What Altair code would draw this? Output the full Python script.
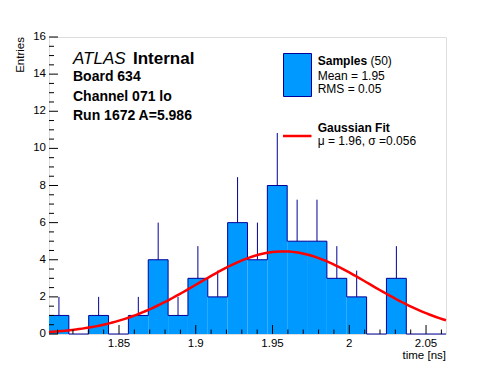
import altair as alt
import pandas as pd
import numpy as np

# ---- data ----
x_min = 1.8044
x_max = 2.063
counts = [1, 0, 1, 0, 1, 4, 1, 3, 2, 6, 4, 8, 5, 5, 3, 2, 0, 3, 0, 0]

fit_mu = 1.957
fit_sigma = 0.056
fit_amp = 4.45

x_major = [1.85, 1.9, 1.95, 2.0, 2.05]
x_labels = ["1.85", "1.9", "1.95", "2", "2.05"]
x_minor = [1.81, 1.82, 1.83, 1.84, 1.86, 1.87, 1.88, 1.89, 1.91, 1.92, 1.93, 1.94,
           1.96, 1.97, 1.98, 1.99, 2.01, 2.02, 2.03, 2.04, 2.06]
y_major = [0, 2, 4, 6, 8, 10, 12, 14, 16]
y_labels = ["0", "2", "4", "6", "8", "10", "12", "14", "16"]
y_minor = [0.5, 1, 1.5, 2.5, 3, 3.5, 4.5, 5, 5.5, 6.5, 7, 7.5, 8.5, 9, 9.5,
           10.5, 11, 11.5, 12.5, 13, 13.5, 14.5, 15, 15.5]

FONT = "Liberation Sans"
FILL = "#0099ff"
LINE = "#000099"
W, H = 397, 297

n_bins = len(counts)
bw = (x_max - x_min) / n_bins
lo = [x_min + i * bw for i in range(n_bins)]
hist = pd.DataFrame({"lo": lo, "hi": [l + bw for l in lo], "c": counts})
hist["mid"] = hist["lo"] + bw / 2
nz = hist[hist["c"] > 0]

outline = pd.DataFrame({"lo": lo + [x_max], "c": counts + [counts[-1]]})

gx = np.linspace(x_min, x_max, 120)
gauss = pd.DataFrame({"lo": gx, "c": fit_amp * np.exp(-0.5 * ((gx - fit_mu) / fit_sigma) ** 2)})

xs = alt.Scale(domain=[x_min, x_max], nice=False, zero=False)
ys = alt.Scale(domain=[0, 16], nice=False, zero=True)


def X(f):
    return alt.X(f, scale=xs, axis=None)


def Y(f):
    return alt.Y(f, scale=ys, axis=None)


bars = alt.Chart(nz).mark_rect(fill=FILL, strokeWidth=0).encode(
    x=X("lo:Q"), x2="hi:Q", y=Y("c:Q"), y2=alt.datum(0))

errs = alt.Chart(nz).transform_calculate(top="datum.c + sqrt(datum.c)").mark_rule(
    color=LINE, strokeWidth=1).encode(x=X("mid:Q"), y=Y("c:Q"), y2="top:Q")

edge = alt.Chart(outline).mark_line(color=LINE, strokeWidth=1, interpolate="step-after").encode(
    x=X("lo:Q"), y=Y("c:Q"))

curve = alt.Chart(gauss).mark_line(color="#ff0000", strokeWidth=2.5).encode(
    x=X("lo:Q"), y=Y("c:Q"))


def xticks(vals, length):
    return alt.Chart(pd.DataFrame({"lo": vals})).mark_rule(color="black", strokeWidth=1).encode(
        x=X("lo:Q"), y=alt.value(H), y2=alt.value(H - length))


def yticks(vals, length):
    return alt.Chart(pd.DataFrame({"c": vals})).mark_rule(color="black", strokeWidth=1).encode(
        y=Y("c:Q"), x=alt.value(0), x2=alt.value(length))


xlab = alt.Chart(pd.DataFrame({"lo": x_major, "t": x_labels})).mark_text(
    font=FONT, fontSize=11.5, align="center", baseline="top", color="black").encode(
    x=X("lo:Q"), y=alt.value(H + 4), text="t:N")
ylab = alt.Chart(pd.DataFrame({"c": y_major, "t": y_labels})).mark_text(
    font=FONT, fontSize=11.5, align="right", baseline="middle", color="black").encode(
    y=Y("c:Q"), x=alt.value(-3), text="t:N")


def label(s, x, y, size=12, weight="normal", style="normal", align="left", angle=0):
    return alt.Chart(pd.DataFrame({"t": [s]})).mark_text(
        font=FONT, fontSize=size, fontWeight=weight, fontStyle=style, align=align,
        baseline="alphabetic", color="black", angle=angle).encode(
        x=alt.value(x), y=alt.value(y), text="t:N")


leg_box = alt.Chart(pd.DataFrame({"a": [0]})).mark_rect(
    fill=FILL, stroke=LINE, strokeWidth=1).encode(
    x=alt.value(234.5), x2=alt.value(262.5), y=alt.value(16.5), y2=alt.value(59.5))
leg_line = alt.Chart(pd.DataFrame({"a": [0]})).mark_rule(
    color="#ff0000", strokeWidth=2.5).encode(
    x=alt.value(234), x2=alt.value(262.5), y=alt.value(99))

texts = [
    label("ATLAS", 24, 27, size=17, style="italic"),
    label("Internal", 84, 27, size=17, weight="bold"),
    label("Board 634", 24, 44, size=14, weight="bold"),
    label("Channel 071 lo", 24, 64, size=14, weight="bold"),
    label("Run 1672 A=5.986", 24, 83, size=14, weight="bold"),
    label("Samples", 268.7, 28, weight="bold"),
    label("(50)", 321.5, 28),
    label("Mean = 1.95", 268.7, 43),
    label("RMS = 0.05", 268.7, 56.3),
    label("Gaussian Fit", 268.7, 95.3, weight="bold"),
    label("\u03bc = 1.96, \u03c3 =0.056", 268.7, 108),
    label("time [ns]", W, 322, size=11.5, align="right"),
    label("Entries", -25, 0, size=11.5, align="right", angle=270),
]

chart = alt.layer(
    bars, errs, edge, curve,
    xticks(x_minor, 4.5), xticks(x_major, 9),
    yticks(y_minor, 5), yticks(y_major, 9),
    xlab, ylab,
    leg_box, leg_line, *texts,
).properties(
    width=W, height=H,
    padding={"left": 41, "top": 29, "right": 30, "bottom": 40},
    autosize="none",
).configure_view(stroke="black", strokeWidth=1).configure(background="white")

chart.save("out.html", embed_options={"renderer": "svg", "actions": False})
